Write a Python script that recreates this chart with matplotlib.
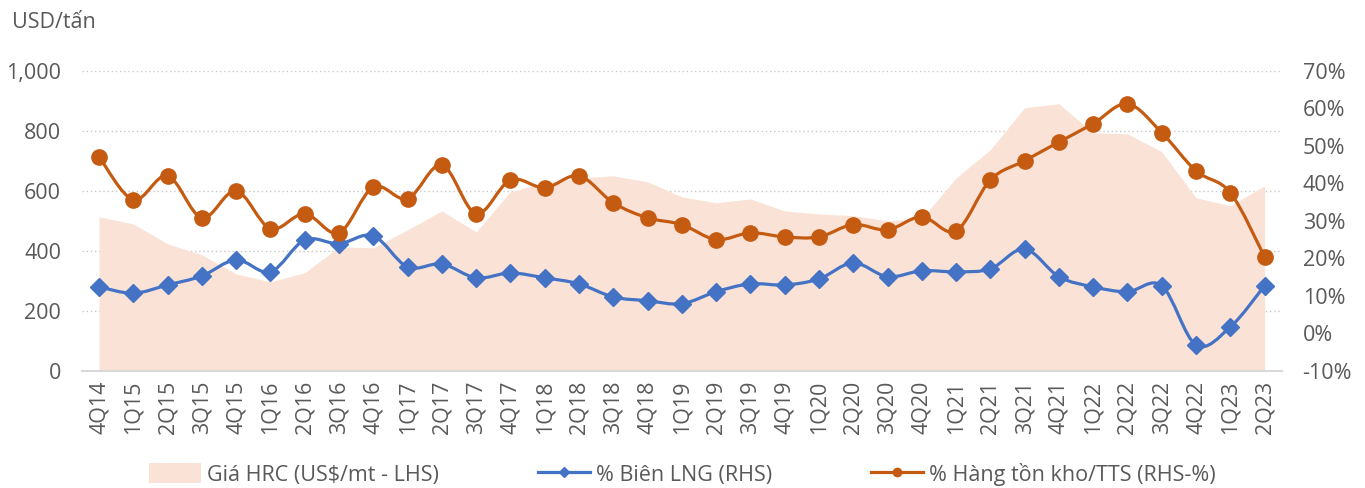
import matplotlib.pyplot as plt
from matplotlib.path import Path
from matplotlib.patches import PathPatch, Patch
from matplotlib.lines import Line2D
from matplotlib.ticker import FuncFormatter

plt.rcParams['font.family'] = ['Open Sans', 'DejaVu Sans']

# quarters
quarters = ['4Q14',
            '1Q15', '2Q15', '3Q15', '4Q15', '1Q16', '2Q16', '3Q16', '4Q16',
            '1Q17', '2Q17', '3Q17', '4Q17', '1Q18', '2Q18', '3Q18', '4Q18',
            '1Q19', '2Q19', '3Q19', '4Q19', '1Q20', '2Q20', '3Q20', '4Q20',
            '1Q21', '2Q21', '3Q21', '4Q21', '1Q22', '2Q22', '3Q22', '4Q22',
            '1Q23', '2Q23']

# HRC price (USD/tan, left axis)
hrc_price = [513, 490, 423, 387, 323, 297, 327, 413, 410, 470, 533, 463,
             597, 627, 643, 650, 630, 580, 560, 573, 533, 523, 517, 500,
             507, 643, 737, 877, 890, 793, 790, 730, 577, 550, 617]

# gross margin % (right axis)
margin_pct = [12.4, 10.7, 12.9, 15.3, 19.6, 16.4, 24.9, 23.9, 26.0, 17.7,
              18.5, 14.8, 16.1, 14.8, 13.2, 9.7, 8.7, 7.9, 11.1, 13.2,
              12.9, 14.5, 18.8, 15.1, 16.7, 16.4, 17.2, 22.5, 15.1, 12.4,
              11.1, 12.7, -3.1, 1.7, 12.7]

# inventory / total assets % (right axis)
inventory_pct = [47.1, 35.6, 42.0, 30.8, 38.0, 27.9, 31.9, 26.8, 39.0, 35.9,
                 44.9, 31.9, 40.9, 38.8, 42.0, 34.8, 30.8, 29.0, 25.0, 26.8,
                 25.7, 25.7, 29.0, 27.6, 31.1, 27.3, 40.9, 46.0, 51.0, 55.9,
                 61.2, 53.5, 43.3, 37.5, 20.4]

label_area = 'Giá HRC (US$/mt - LHS)'
label_margin = '% Biên LNG (RHS)'
label_inv = '% Hàng tồn kho/TTS (RHS-%)'

fill_color = '#FAE3D6'
blue = '#4472C4'
orange = '#C55A11'
text_color = '#595959'
fs = 15.5


def smooth_path(xs, ys):
    # bezier curve through the points, like excel's smoothed line
    verts = [(xs[0], ys[0])]
    codes = [Path.MOVETO]
    n = len(xs)
    for i in range(n - 1):
        x0, y0 = (xs[i - 1], ys[i - 1]) if i > 0 else (xs[i], ys[i])
        x3, y3 = (xs[i + 2], ys[i + 2]) if i + 2 < n else (xs[i + 1], ys[i + 1])
        c1 = (xs[i] + (xs[i + 1] - x0) / 6, ys[i] + (ys[i + 1] - y0) / 6)
        c2 = (xs[i + 1] - (x3 - xs[i]) / 6, ys[i + 1] - (y3 - ys[i]) / 6)
        verts += [c1, c2, (xs[i + 1], ys[i + 1])]
        codes += [Path.CURVE4] * 3
    return Path(verts, codes)


x = list(range(len(quarters)))

fig = plt.figure(figsize=(13.65, 4.88), dpi=100)
ax = fig.add_axes([0.060, 0.240, 0.879, 0.615])
ax2 = ax.twinx()

ax.fill_between(x, 0, hrc_price, color=fill_color, linewidth=0, zorder=2)
ax.set_ylim(0, 1000)
ax.set_yticks([0, 200, 400, 600, 800, 1000])
ax.yaxis.set_major_formatter(FuncFormatter(lambda v, p: f'{v:,.0f}'))
ax.grid(axis='y', linestyle=(0, (1, 2)), color='#C8C8C8', linewidth=1)
ax.set_axisbelow(True)
ax.set_xlim(-0.5, len(quarters) - 0.5)
ax.set_xticks(x)
ax.set_xticklabels(quarters, rotation=90)

for a in (ax, ax2):
    for s in a.spines.values():
        s.set_visible(False)
    a.tick_params(length=0, labelsize=fs, colors=text_color)
ax.spines['bottom'].set_visible(True)
ax.spines['bottom'].set_color('#D9D9D9')
ax.spines['bottom'].set_linewidth(1.5)
ax.tick_params(axis='x', pad=7)
ax.tick_params(axis='y', pad=15)
ax2.tick_params(axis='y', pad=15)

ax2.set_ylim(-10, 70)
ax2.set_yticks(range(-10, 71, 10))
ax2.yaxis.set_major_formatter(FuncFormatter(lambda v, p: f'{v:.0f}%'))

ax2.add_patch(PathPatch(smooth_path(x, margin_pct), fill=False,
                        edgecolor=blue, linewidth=2.3, zorder=3))
ax2.plot(x, margin_pct, linestyle='none', marker='D', markersize=9,
         color=blue, zorder=4)
ax2.add_patch(PathPatch(smooth_path(x, inventory_pct), fill=False,
                        edgecolor=orange, linewidth=2.3, zorder=3))
ax2.plot(x, inventory_pct, linestyle='none', marker='o', markersize=11,
         color=orange, zorder=4)

fig.text(12 / 1365, 1 - 22 / 488, 'USD/tấn', fontsize=fs, color=text_color,
         ha='left', va='center')

handles = [Patch(facecolor=fill_color, edgecolor='none'),
           Line2D([], [], color=blue, linewidth=2.3, marker='D', markersize=5),
           Line2D([], [], color=orange, linewidth=2.3, marker='o', markersize=6)]
fig.legend(handles, [label_area, label_margin, label_inv], loc='center',
           bbox_to_anchor=(0.5, 1 - 474 / 488), ncol=3, frameon=False,
           fontsize=fs, labelcolor=text_color, handlelength=2.4,
           handleheight=1.0, handletextpad=0.3, columnspacing=4.6)

fig.savefig('out.png', dpi=100)
